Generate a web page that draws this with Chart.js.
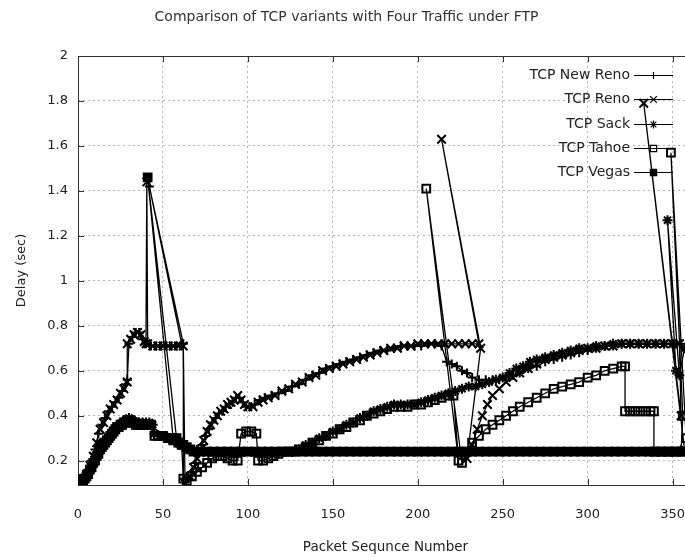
<!DOCTYPE html>
<html>
<head>
<meta charset="utf-8">
<script src="https://cdn.jsdelivr.net/npm/chart.js@4.4.1/dist/chart.umd.min.js"></script>
<style>
  html, body { margin: 0; padding: 0; background: #fff; overflow: hidden; }
  #wrap { position: relative; width: 790px; height: 557px; }
  #delayChart { filter: blur(0.45px); }
</style>
</head>
<body>
<div id="wrap"><canvas id="delayChart"></canvas></div>
<script>
// ===== DATA (packet sequence number, delay in sec) =====
const seriesNames = ['TCP New Reno', 'TCP Reno', 'TCP Sack', 'TCP Tahoe', 'TCP Vegas'];
const xTickStep = 50;
const yTickStep = 0.2;

const newReno = [
  [0,0.10],[2,0.11],[4,0.13],[6,0.16],[8,0.20],[10,0.25],[12,0.32],[14,0.36],[16,0.39],[18,0.42],
  [20,0.44],[22,0.46],[24,0.48],[26,0.51],[28,0.54],[29,0.56],[30,0.72],[32,0.75],[34,0.77],[36,0.77],
  [38,0.74],[40,0.72],[43,0.71],[46,0.71],[49,0.71],[52,0.71],[55,0.71],[58,0.71],[61,0.72],[42,1.42],
  [62,0.72],[62,0.12],[65,0.12],[67,0.15],[69,0.19],[71,0.23],[73,0.27],[75,0.31],[77,0.34],[79,0.37],
  [81,0.39],[83,0.41],[85,0.42],[87,0.44],[89,0.45],[91,0.46],[93,0.48],[95,0.48],[97,0.46],[99,0.44],
  [101,0.44],[104,0.45],[107,0.47],[110,0.48],[114,0.49],[118,0.50],[122,0.51],[126,0.53],[130,0.54],
  [134,0.56],[138,0.58],[142,0.59],[146,0.61],[150,0.62],[154,0.63],[158,0.64],[162,0.65],[166,0.66],
  [170,0.67],[174,0.68],[178,0.69],[182,0.69],[186,0.70],[190,0.71],[194,0.71],[198,0.71],[202,0.71],
  [206,0.72],[210,0.72],[214,0.71],[217,0.64],[220,0.63],[223,0.62],[226,0.60],[229,0.59],[232,0.57],
  [236,0.56],[240,0.56],[244,0.56],[248,0.56],[252,0.57],[256,0.58],[260,0.59],[265,0.61],[270,0.62],
  [275,0.64],[280,0.65],[285,0.66],[290,0.67],[295,0.68],[300,0.69],[305,0.70],[310,0.71],[315,0.71],
  [320,0.72],[325,0.72],[330,0.72],[335,0.72],[340,0.72],[345,0.72],[350,0.72],[355,0.72],[360,0.72]
];

const reno = [
  [1,0.10],[3,0.12],[5,0.14],[7,0.18],[9,0.22],[11,0.28],[13,0.34],[15,0.37],[17,0.40],[19,0.43],
  [21,0.45],[23,0.47],[25,0.50],[27,0.52],[29,0.55],[29,0.72],[31,0.74],[33,0.76],[35,0.77],[37,0.76],
  [39,0.73],[40,0.72],[40.5,1.44],[41,0.72],[44,0.71],[47,0.71],[50,0.71],[53,0.71],[56,0.71],[59,0.71],
  [62,0.71],[63,0.10],[66,0.13],[68,0.17],[70,0.21],[72,0.25],[74,0.29],[76,0.33],[78,0.36],[80,0.38],
  [82,0.40],[84,0.42],[86,0.43],[88,0.45],[90,0.46],[92,0.47],[94,0.49],[96,0.47],[98,0.45],[100,0.44],
  [103,0.44],[106,0.46],[109,0.47],[112,0.48],[116,0.49],[120,0.51],[124,0.52],[128,0.54],[132,0.55],
  [136,0.57],[140,0.58],[144,0.60],[148,0.61],[152,0.62],[156,0.63],[160,0.64],[164,0.65],[168,0.66],
  [172,0.67],[176,0.68],[180,0.69],[184,0.70],[188,0.70],[192,0.71],[196,0.71],[200,0.72],[204,0.72],
  [208,0.72],[212,0.72],[216,0.72],[220,0.72],[224,0.72],[228,0.72],[232,0.72],[236,0.72],[214,1.63],
  [237,0.70],[229,0.21],[232,0.27],[235,0.34],[238,0.40],[241,0.45],[244,0.49],[248,0.52],[252,0.55],
  [256,0.57],[260,0.59],[265,0.61],[270,0.63],[275,0.65],[280,0.66],[285,0.67],[290,0.68],[295,0.69],
  [300,0.70],[305,0.70],[310,0.71],[315,0.71],[320,0.72],[325,0.72],[330,0.72],[335,0.72],[340,0.72],
  [345,0.72],[350,0.72],[354,0.72],[355,0.40],[333,1.79],[357,0.25],[362,0.18]
];

const sack = [
  [0,0.10],[2,0.11],[4,0.12],[6,0.14],[8,0.17],[10,0.20],[12,0.23],[14,0.26],[16,0.28],[18,0.30],
  [20,0.32],[22,0.34],[24,0.35],[26,0.37],[28,0.38],[30,0.39],[32,0.38],[34,0.37],[36,0.37],[38,0.37],
  [40,0.37],[42,0.37],[44,0.36],[45,0.32],[48,0.31],[51,0.31],[54,0.30],[57,0.29],[60,0.28],[63,0.26],
  [66,0.25],[70,0.24],[74,0.24],[78,0.24],[82,0.24],[86,0.24],[90,0.24],[94,0.24],[98,0.24],[102,0.24],
  [106,0.24],[110,0.24],[114,0.24],[118,0.24],[122,0.24],[126,0.24],[130,0.25],[134,0.27],[138,0.28],
  [142,0.30],[146,0.31],[150,0.33],[154,0.34],[158,0.36],[162,0.37],[166,0.39],[170,0.40],[174,0.42],
  [178,0.43],[182,0.44],[186,0.45],[190,0.45],[194,0.45],[198,0.45],[202,0.46],[206,0.47],[210,0.48],
  [214,0.49],[218,0.50],[222,0.51],[226,0.52],[230,0.53],[234,0.53],[238,0.54],[242,0.55],[246,0.56],
  [250,0.57],[254,0.59],[258,0.61],[262,0.62],[266,0.64],[270,0.65],[275,0.66],[280,0.67],[285,0.68],
  [290,0.69],[295,0.70],[300,0.70],[305,0.71],[310,0.71],[315,0.72],[320,0.72],[325,0.72],[330,0.72],
  [335,0.72],[340,0.72],[345,0.72],[350,0.72],[352,0.60],[347,1.27],[354,0.58],[357,0.70],[362,0.72]
];

const tahoe = [
  [1,0.10],[3,0.11],[5,0.13],[7,0.16],[9,0.19],[11,0.22],[13,0.25],[15,0.27],[17,0.29],[19,0.31],
  [21,0.33],[23,0.35],[25,0.36],[27,0.37],[29,0.38],[31,0.38],[33,0.37],[35,0.36],[37,0.36],[39,0.36],
  [41,0.36],[43,0.36],[45,0.31],[47,0.31],[50,0.31],[53,0.30],[56,0.29],[59,0.28],[61,0.27],[62,0.12],
  [64,0.11],[67,0.13],[70,0.15],[73,0.17],[76,0.19],[79,0.21],[82,0.22],[85,0.22],[88,0.21],[91,0.20],
  [94,0.20],[96,0.32],[99,0.33],[102,0.33],[105,0.32],[106,0.20],[109,0.20],[112,0.21],[115,0.22],
  [118,0.23],[122,0.24],[126,0.24],[130,0.25],[134,0.26],[138,0.28],[142,0.29],[146,0.31],[150,0.32],
  [154,0.34],[158,0.35],[162,0.37],[166,0.38],[170,0.40],[174,0.41],[178,0.42],[182,0.43],[186,0.44],
  [190,0.44],[194,0.44],[198,0.45],[202,0.45],[206,0.46],[210,0.47],[214,0.48],[218,0.49],[221,0.49],
  [224,0.20],[205,1.41],[226,0.19],[229,0.24],[232,0.28],[236,0.31],[240,0.34],[244,0.36],[248,0.38],
  [252,0.40],[256,0.42],[260,0.44],[265,0.46],[270,0.48],[275,0.50],[280,0.52],[285,0.53],[290,0.54],
  [295,0.55],[300,0.57],[305,0.58],[310,0.60],[315,0.61],[320,0.62],[322,0.62],[322,0.42],[325,0.42],
  [328,0.42],[331,0.42],[334,0.42],[337,0.42],[339,0.42],[339,0.24],[343,0.24],[347,0.24],[351,0.24],
  [355,0.24],[356,0.40],[349,1.57],[358,0.30],[362,0.26]
];

const vegas = [
  [0,0.10],[2,0.11],[4,0.12],[6,0.14],[8,0.17],[10,0.20],[12,0.23],[14,0.26],[16,0.28],[18,0.30],
  [20,0.32],[22,0.34],[24,0.35],[26,0.36],[28,0.37],[30,0.38],[32,0.37],[34,0.36],[36,0.36],[38,0.36],
  [40,0.36],[56,0.30],[41,1.46],[58,0.30],[60,0.28],[62,0.27],[64,0.26],[66,0.25],[68,0.24],[72,0.24],
  [76,0.24],[80,0.24],[84,0.24],[88,0.24],[92,0.24],[96,0.24],[100,0.24],[104,0.24],[108,0.24],[112,0.24],
  [116,0.24],[120,0.24],[124,0.24],[128,0.24],[132,0.24],[136,0.24],[140,0.24],[144,0.24],[148,0.24],
  [152,0.24],[156,0.24],[160,0.24],[164,0.24],[168,0.24],[172,0.24],[176,0.24],[180,0.24],[184,0.24],
  [188,0.24],[192,0.24],[196,0.24],[200,0.24],[204,0.24],[208,0.24],[212,0.24],[216,0.24],[220,0.24],
  [224,0.24],[228,0.24],[232,0.24],[236,0.24],[240,0.24],[244,0.24],[248,0.24],[252,0.24],[256,0.24],
  [260,0.24],[264,0.24],[268,0.24],[272,0.24],[276,0.24],[280,0.24],[284,0.24],[288,0.24],[292,0.24],
  [296,0.24],[300,0.24],[304,0.24],[308,0.24],[312,0.24],[316,0.24],[320,0.24],[324,0.24],[328,0.24],
  [332,0.24],[336,0.24],[340,0.24],[344,0.24],[348,0.24],[352,0.24],[356,0.24],[360,0.24]
];

// ===== STYLE =====
const FONT = 'DejaVu Sans';
const INK = '#222';
const markers = [
  { style: 'cross',    radius: 4.5, filled: false },
  { style: 'crossRot', radius: 6,   filled: false },
  { style: 'star',     radius: 5,   filled: false },
  { style: 'rect',     radius: 5.5, filled: false },
  { style: 'rect',     radius: 5.5, filled: true }
];

function isMajor(v, step) {
  return Math.abs(v / step - Math.round(v / step)) < 1e-6;
}

function makeDataset(i, pairs) {
  const m = markers[i];
  return {
    label: seriesNames[i],
    data: pairs.map(p => ({ x: p[0], y: p[1] })),
    showLine: true,
    borderColor: '#000',
    borderWidth: 1.3,
    tension: 0,
    pointStyle: m.style,
    pointRadius: m.radius,
    pointBorderWidth: 2,
    pointBorderColor: '#000',
    pointBackgroundColor: m.filled ? '#000' : 'rgba(0,0,0,0)'
  };
}

// draw a marker the way gnuplot shows it in the key
function drawMarker(ctx, m, x, y) {
  const r = m.radius * 0.8;
  ctx.beginPath();
  if (m.style === 'rect') {
    const h = r * Math.SQRT1_2;
    ctx.rect(x - h, y - h, 2 * h, 2 * h);
    if (m.filled) ctx.fill();
  } else {
    if (m.style === 'cross' || m.style === 'star') {
      ctx.moveTo(x - r, y); ctx.lineTo(x + r, y);
      ctx.moveTo(x, y - r); ctx.lineTo(x, y + r);
    }
    if (m.style === 'crossRot' || m.style === 'star') {
      const d = r * Math.SQRT1_2;
      ctx.moveTo(x - d, y - d); ctx.lineTo(x + d, y + d);
      ctx.moveTo(x - d, y + d); ctx.lineTo(x + d, y - d);
    }
  }
  ctx.stroke();
}

// ===== PLUGINS =====
const framePlugin = {
  id: 'frame',
  beforeDatasetsDraw(chart) {
    const { ctx, chartArea: a, scales } = chart;
    ctx.save();
    ctx.strokeStyle = '#333';
    ctx.lineWidth = 1;
    ctx.strokeRect(Math.round(a.left) + 0.5, Math.round(a.top) + 0.5,
      Math.round(a.right - a.left), Math.round(a.bottom - a.top));
    ctx.beginPath();
    scales.x.ticks.forEach(t => {
      if (!isMajor(t.value, xTickStep)) return;
      const px = Math.round(scales.x.getPixelForValue(t.value)) + 0.5;
      ctx.moveTo(px, a.bottom); ctx.lineTo(px, a.bottom - 6);
      ctx.moveTo(px, a.top); ctx.lineTo(px, a.top + 6);
    });
    scales.y.ticks.forEach(t => {
      if (!isMajor(t.value, yTickStep)) return;
      const py = Math.round(scales.y.getPixelForValue(t.value)) + 0.5;
      ctx.moveTo(a.left, py); ctx.lineTo(a.left + 6, py);
    });
    ctx.stroke();
    ctx.restore();
  }
};

const keyPlugin = {
  id: 'gnuplotKey',
  afterDatasetsDraw(chart) {
    const ctx = chart.ctx;
    const textRight = 630, lineStart = 634, lineEnd = 673, top = 75, rowGap = 24.3;
    ctx.save();
    ctx.font = '14px "' + FONT + '"';
    ctx.textAlign = 'right';
    ctx.textBaseline = 'middle';
    seriesNames.forEach((name, i) => {
      const y = Math.round(top + i * rowGap) + 0.5;
      ctx.fillStyle = INK;
      ctx.fillText(name, textRight, y);
      ctx.strokeStyle = '#000';
      ctx.fillStyle = '#000';
      ctx.lineWidth = 1.2;
      ctx.beginPath();
      ctx.moveTo(lineStart, y); ctx.lineTo(lineEnd, y);
      ctx.stroke();
      drawMarker(ctx, markers[i], (lineStart + lineEnd) / 2, y);
    });
    ctx.restore();
  }
};

// ===== CHART =====
const chart = new Chart(document.getElementById('delayChart').getContext('2d'), {
  type: 'scatter',
  data: {
    datasets: [
      makeDataset(0, newReno),
      makeDataset(1, reno),
      makeDataset(2, sack),
      makeDataset(3, tahoe),
      makeDataset(4, vegas)
    ]
  },
  options: {
    responsive: true,
    maintainAspectRatio: false,
    animation: false,
    events: [],
    layout: { padding: { left: 0, right: 97, top: 0, bottom: 0 } },
    plugins: {
      legend: { display: false },
      tooltip: { enabled: false },
      title: {
        display: true,
        text: 'Comparison of TCP variants with Four Traffic under FTP',
        color: '#333',
        font: { family: FONT, size: 14, weight: 'normal' },
        padding: { top: 8.6, bottom: 30.6 }
      }
    },
    scales: {
      x: {
        type: 'linear',
        min: 0,
        max: 362,
        afterFit: s => { s.height = 72; },
        ticks: {
          stepSize: xTickStep,
          includeBounds: false,
          autoSkip: false,
          padding: 22,
          color: INK,
          font: { family: FONT, size: 13 },
          maxRotation: 0,
          callback: v => isMajor(v, xTickStep) ? String(v) : ''
        },
        grid: {
          drawTicks: false,
          color: c => (c.tick && isMajor(c.tick.value, xTickStep) && c.tick.value > 0) ? '#b4b4b4' : 'rgba(0,0,0,0)'
        },
        border: { display: false, dash: [2, 3] },
        title: {
          display: true,
          text: 'Packet Sequnce Number',
          color: INK,
          font: { family: FONT, size: 13.5 },
          padding: { top: 0, bottom: 1 }
        }
      },
      y: {
        type: 'linear',
        min: 0.092,
        max: 2,
        afterFit: s => { s.width = 78; },
        ticks: {
          stepSize: yTickStep,
          padding: 10,
          color: INK,
          font: { family: FONT, size: 13 },
          callback: v => isMajor(v, yTickStep) ? String(Math.round(v * 10) / 10) : ''
        },
        grid: {
          drawTicks: false,
          color: c => (c.tick && isMajor(c.tick.value, yTickStep) && c.tick.value < 1.99) ? '#b4b4b4' : 'rgba(0,0,0,0)'
        },
        border: { display: false, dash: [2, 3] },
        title: {
          display: true,
          text: 'Delay (sec)',
          color: INK,
          font: { family: FONT, size: 13 },
          padding: { top: 14, bottom: 0 }
        }
      }
    }
  },
  plugins: [framePlugin, keyPlugin]
});
</script>
</body>
</html>
